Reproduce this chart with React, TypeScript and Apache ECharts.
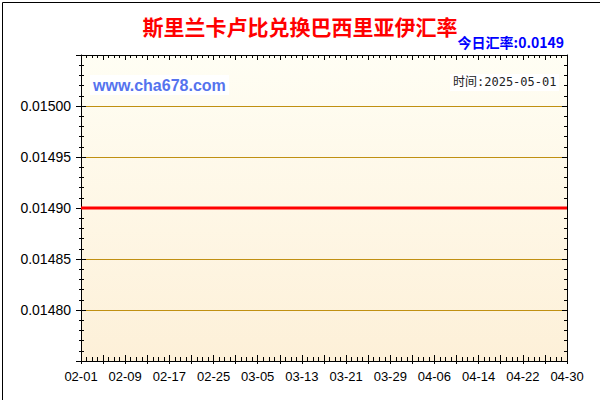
import React, { useEffect, useRef } from "react";
import * as echarts from "echarts";

// 2025-02-01 ～ 2025-04-30 每日日期
const monthDays: [string, number][] = [
	["02", 28],
	["03", 31],
	["04", 30],
];
const dates: string[] = [];
monthDays.forEach(([m, n]) => {
	for (let d = 1; d <= n; d++) dates.push(`${m}-${String(d).padStart(2, "0")}`);
});

// 汇率（每日）
const rates = [
	0.0149, 0.0149, 0.0149, 0.0149, 0.0149, 0.0149, 0.0149, 0.0149, 0.0149, 0.0149,
	0.0149, 0.0149, 0.0149, 0.0149, 0.0149, 0.0149, 0.0149, 0.0149, 0.0149, 0.0149,
	0.0149, 0.0149, 0.0149, 0.0149, 0.0149, 0.0149, 0.0149, 0.0149, 0.0149, 0.0149,
	0.0149, 0.0149, 0.0149, 0.0149, 0.0149, 0.0149, 0.0149, 0.0149, 0.0149, 0.0149,
	0.0149, 0.0149, 0.0149, 0.0149, 0.0149, 0.0149, 0.0149, 0.0149, 0.0149, 0.0149,
	0.0149, 0.0149, 0.0149, 0.0149, 0.0149, 0.0149, 0.0149, 0.0149, 0.0149, 0.0149,
	0.0149, 0.0149, 0.0149, 0.0149, 0.0149, 0.0149, 0.0149, 0.0149, 0.0149, 0.0149,
	0.0149, 0.0149, 0.0149, 0.0149, 0.0149, 0.0149, 0.0149, 0.0149, 0.0149, 0.0149,
	0.0149, 0.0149, 0.0149, 0.0149, 0.0149, 0.0149, 0.0149, 0.0149, 0.0149,
];

const TITLE = "斯里兰卡卢比兑换巴西里亚伊汇率";
const TODAY_RATE = "今日汇率:0.0149";
const SITE = "www.cha678.com";
const DATE_TEXT = "时间:2025-05-01";

const Y_MIN = 0.01475;
const Y_MAX = 0.01505;
const Y_STEP = 0.00005;

const FONT = "'Liberation Sans', Arial, sans-serif";
const CJK = "'Noto Sans CJK SC', sans-serif";

export default function App() {
	const chartRef = useRef<HTMLDivElement>(null);

	useEffect(() => {
		if (!chartRef.current) return;
		const chart = echarts.init(chartRef.current, undefined, { renderer: "svg" });

		const black = { lineStyle: { color: "#000", width: 1 } };
		const noLabel = { show: false };

		// x 轴：底部刻度（每日 / 每4日）+ 顶部刻度
		const xBase = { type: "category" as const, data: dates, boundaryGap: false, gridIndex: 0 };
		const xTickOnly = (position: string, interval: number, inside: boolean, length: number, line = false) => ({
			...xBase,
			position,
			axisLine: { show: line, ...black },
			axisTick: { show: true, interval, inside, length, ...black },
			axisLabel: noLabel,
			splitLine: { show: false },
		});
		const xAxes = [
			{
				...xBase,
				position: "bottom",
				axisLine: { show: true, ...black },
				axisTick: { show: true, interval: 3, inside: false, length: 3, ...black },
				axisLabel: { interval: 7, fontSize: 13, color: "#000", fontFamily: FONT, margin: 9 },
				splitLine: { show: false },
			},
			xTickOnly("bottom", 0, true, 4),
			xTickOnly("bottom", 3, true, 6),
			xTickOnly("top", 0, true, 3, true),
			xTickOnly("top", 3, true, 5),
		];

		// y 轴：左侧标签 + 左右刻度
		const yBase = { type: "value" as const, min: Y_MIN, max: Y_MAX, interval: Y_STEP, gridIndex: 0 };
		const yAxes = [
			{
				...yBase,
				position: "left",
				axisLine: { show: true, ...black },
				axisTick: { show: true, inside: false, length: 5, ...black },
				minorTick: { show: true, splitNumber: 5, length: 2, ...black },
				axisLabel: {
					fontSize: 14,
					color: "#000",
					fontFamily: FONT,
					margin: 10,
					showMinLabel: false,
					showMaxLabel: false,
					formatter: (v: number) => v.toFixed(5),
				},
				splitLine: { show: true, lineStyle: { color: "#c09012", width: 1 } },
			},
			{
				...yBase,
				position: "left",
				axisLine: { show: false },
				axisTick: { show: true, inside: true, length: 5, ...black },
				minorTick: { show: true, splitNumber: 5, length: 3, ...black },
				axisLabel: noLabel,
				splitLine: { show: false },
			},
			{
				...yBase,
				position: "right",
				axisLine: { show: true, ...black },
				axisTick: { show: true, inside: true, length: 5, ...black },
				minorTick: { show: true, splitNumber: 5, length: 3, ...black },
				axisLabel: noLabel,
				splitLine: { show: false },
			},
		];

		chart.setOption({
			animation: false,
			backgroundColor: "#fff",
			title: {
				text: TITLE,
				left: "center",
				top: 10,
				textStyle: { fontSize: 21, fontWeight: "bold", color: "#ff0000", fontFamily: CJK },
			},
			grid: {
				left: 81,
				right: 33,
				top: 55,
				bottom: 39,
				show: true,
				borderWidth: 0,
				backgroundColor: new echarts.graphic.LinearGradient(0, 0, 0, 1, [
					{ offset: 0, color: "#fffef4" },
					{ offset: 1, color: "#fdf0d8" },
				]),
			},
			xAxis: xAxes,
			yAxis: yAxes,
			graphic: [
				{
					type: "rect",
					left: 0,
					top: 0,
					shape: { x: 0, y: 0, width: 599, height: 399 },
					style: { fill: "none", stroke: "#000", lineWidth: 1 },
					silent: true,
				},
				{
					type: "text",
					right: 36,
					top: 35,
					style: { text: TODAY_RATE, fill: "#0000ff", font: `bold 14px ${CJK}` },
				},
				{
					type: "group",
					left: 90,
					top: 75,
					children: [
						{ type: "rect", shape: { x: 0, y: 0, width: 139, height: 20 }, style: { fill: "#fff" } },
						{
							type: "text",
							x: 3,
							y: 2,
							style: { text: SITE, fill: "#5573ee", font: `bold 16px ${FONT}` },
						},
					],
				},
				{
					type: "group",
					left: 450,
					top: 74,
					children: [
						{ type: "rect", shape: { x: 0, y: 0, width: 109, height: 17 }, style: { fill: "#fff" } },
						{
							type: "text",
							x: 3,
							y: 2,
							style: { text: DATE_TEXT, fill: "#222", font: `12px 'DejaVu Sans Mono', ${CJK}` },
						},
					],
				},
			],
			series: [
				{
					type: "line",
					xAxisIndex: 0,
					yAxisIndex: 0,
					data: rates,
					showSymbol: false,
					symbol: "none",
					lineStyle: { color: "#ff0000", width: 3 },
					z: 5,
				},
			],
		});

		return () => chart.dispose();
	}, []);

	return (
		<div
			ref={chartRef}
			style={{ position: "absolute", left: 0, top: 0, width: 600, height: 400 }}
		/>
	);
}
